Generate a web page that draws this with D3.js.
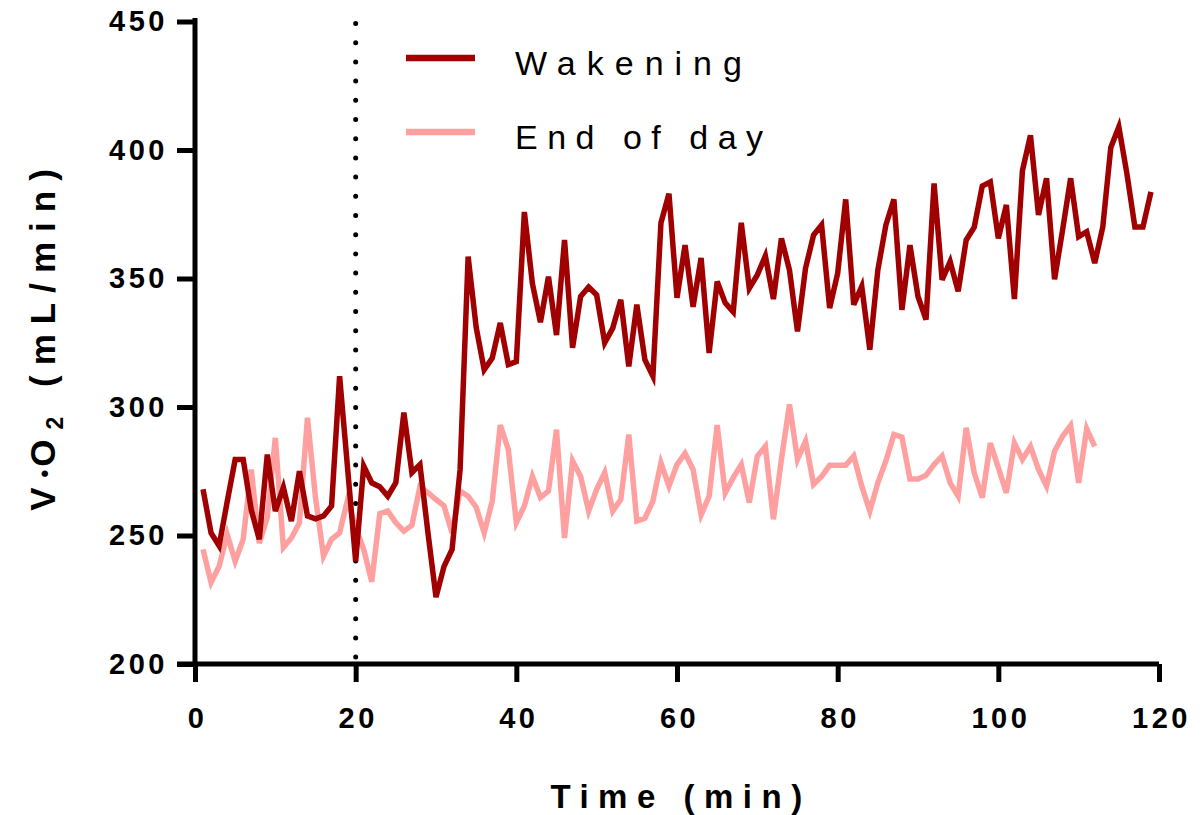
<!DOCTYPE html>
<html>
<head>
<meta charset="utf-8">
<script src="https://cdn.jsdelivr.net/npm/d3@7"></script>
<style>
  body { margin: 0; background: #fff; }
  svg { display: block; font-family: "Liberation Sans", Arial, sans-serif; }
</style>
</head>
<body>
<svg id="chart" width="1204" height="815"></svg>
<script>
// VO2 per minute, minute 1 onward
const wakening = [
  268, 251, 246, 263, 279.6, 279.6, 260, 248.5, 281.5, 259.5,
  268.7, 255.6, 275, 257.6, 256.5, 257.6, 261.5, 312, 276, 240,
  277, 270.5, 269, 265.3, 270.6, 297.8, 274.5, 277.6, 251, 226,
  238, 244.6, 275.7, 358.5, 331, 314.5, 319, 332.7, 316.5, 317.7,
  375.9, 348, 333, 350.7, 328, 365, 323, 343, 346.7, 343.6,
  325, 330.7, 341.7, 315.8, 339.8, 318.4, 312, 371.6, 383, 342.5,
  363, 339, 358, 321, 348.8, 340.5, 337, 371.7, 346.2, 351.4,
  358.8, 342, 365.6, 353.3, 329.4, 354, 366.9, 370.8, 338.5, 352,
  380.8, 339.8, 346.9, 322.3, 353.3, 370.8, 380.8, 337.8, 363, 343,
  334, 387, 349.5, 356.6, 345, 365, 370, 386, 387.6, 365.6,
  378.6, 342, 392, 405.7, 374.7, 389, 349.7, 368.9, 389, 366.3,
  368.2, 356, 370, 401, 409, 390.9, 370, 370, 383.7
];
const endOfDay = [
  244.6, 231.7, 238, 250.5, 240, 248.5, 275.7, 247, 257, 288,
  245.3, 249, 255, 295.8, 264.7, 242, 248.5, 251, 264, 253,
  244.6, 232, 258.5, 259.5, 255, 251.7, 254, 269, 266.7, 264,
  261.5, 251, 267.3, 265.3, 261, 251, 263.4, 293, 283.5, 255,
  261.5, 273, 264.8, 267.3, 291.2, 249, 279, 273, 259.5, 268,
  274.5, 259.5, 264, 289.3, 255.6, 256.7, 263.4, 278.3, 269.2, 277.6,
  282, 275.7, 258, 265.3, 293, 266.6, 272.5, 277.6, 262.8, 280.9,
  284.7, 256.3, 279.6, 301, 279.6, 286.7, 269.9, 273, 277.3, 277.3,
  277.3, 280.9, 269.2, 259.5, 270.5, 279, 289.3, 288.3, 272, 272,
  273.4, 277.6, 280.9, 270.5, 265.3, 291.9, 274.4, 264.7, 286, 276.4,
  266.6, 286, 279.6, 284.7, 275.7, 269.2, 282.8, 288.6, 292.8, 270.5,
  291.5, 284.7
];
const seriesNames = ['Wakening', 'End of day'];
const seriesColors = ['#a00000', '#ffa0a0'];
const xTicks = [0, 20, 40, 60, 80, 100, 120];
const yTicks = [200, 250, 300, 350, 400, 450];
const eventTime = 20;

const svg = d3.select('#chart');
const plotLeft = 195, plotRight = 1159, plotTop = 21.5, plotBottom = 664;
const axisWidth = 5, tickLen = 18;

const x = d3.scaleLinear().domain([0, 120]).range([plotLeft, plotRight]);
const y = d3.scaleLinear().domain([200, 450]).range([plotBottom, plotTop]);

// dotted marker at minute 20
svg.append('line')
  .attr('x1', x(eventTime)).attr('x2', x(eventTime))
  .attr('y1', y(450) + 2).attr('y2', plotBottom)
  .attr('stroke', '#000')
  .attr('stroke-width', 5)
  .attr('stroke-linecap', 'round')
  .attr('stroke-dasharray', '0 19.2');

// series lines, light one underneath
const line = d3.line()
  .x((d, i) => x(i + 1))
  .y(d => y(d));

[[endOfDay, 1], [wakening, 0]].forEach(([values, idx]) => {
  svg.append('path')
    .datum(values)
    .attr('d', line)
    .attr('fill', 'none')
    .attr('stroke', seriesColors[idx])
    .attr('stroke-width', 5.5)
    .attr('stroke-linejoin', 'miter')
    .attr('stroke-miterlimit', 4);
});

// axes
const xAxis = d3.axisBottom(x).tickValues(xTicks).tickSize(tickLen).tickSizeOuter(0).tickPadding(25);
const yAxis = d3.axisLeft(y).tickValues(yTicks).tickSize(tickLen).tickSizeOuter(0).tickPadding(12);

const gx = svg.append('g').attr('transform', `translate(0,${plotBottom})`).call(xAxis);
const gy = svg.append('g').attr('transform', `translate(${plotLeft},0)`).call(yAxis);

[gx, gy].forEach(g => {
  g.select('.domain').attr('stroke', '#000').attr('stroke-width', axisWidth);
  g.selectAll('.tick line').attr('stroke', '#000').attr('stroke-width', axisWidth);
  g.selectAll('.tick text')
    .attr('fill', '#000')
    .style('font-size', '29px')
    .style('font-weight', 'bold')
    .style('letter-spacing', '3.5px');
});
gx.select('.domain').attr('d', `M${plotLeft - tickLen},0H${plotRight}`);
gy.select('.domain').attr('d', `M0,${plotTop - 3.5}V${plotBottom}`);
gx.selectAll('.tick text').attr('dx', '2px');
gy.selectAll('.tick text').attr('dx', '3px');

// axis titles
svg.append('text')
  .attr('x', 681).attr('y', 808)
  .attr('text-anchor', 'middle')
  .style('font-size', '33px')
  .style('font-weight', 'bold')
  .style('letter-spacing', '9.5px')
  .text('Time (min)');

const yTitle = svg.append('text')
  .attr('transform', 'translate(55,335) rotate(-90)')
  .attr('text-anchor', 'middle')
  .style('font-size', '35px')
  .style('font-weight', 'bold')
  .style('letter-spacing', '10px');
yTitle.append('tspan').text('V');
yTitle.append('tspan').style('font-size', '22px').attr('dy', '-3').style('letter-spacing', '3px').text('•');
yTitle.append('tspan').attr('dy', '3').text('O');
yTitle.append('tspan').style('font-size', '23px').attr('dy', '8').text('2');
yTitle.append('tspan').attr('dy', '-8').text(' (mL/min)');

// legend
const legendY = [58, 132];
seriesNames.forEach((name, i) => {
  svg.append('line')
    .attr('x1', 406).attr('x2', 475)
    .attr('y1', legendY[i]).attr('y2', legendY[i])
    .attr('stroke', seriesColors[i])
    .attr('stroke-width', 6.5);
  svg.append('text')
    .attr('x', 515).attr('y', legendY[i] + 17)
    .style('font-size', '34px')
    .style('letter-spacing', i === 0 ? '11px' : '9.5px')
    .text(name);
});
</script>
</body>
</html>
